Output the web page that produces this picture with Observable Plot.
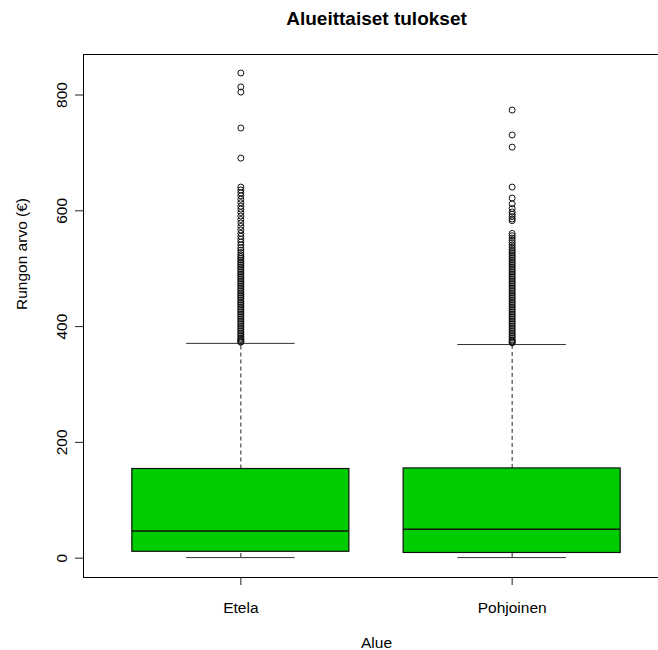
<!DOCTYPE html>
<html>
<head>
<meta charset="utf-8">
<script src="https://cdn.jsdelivr.net/npm/d3@7"></script>
<script src="https://cdn.jsdelivr.net/npm/@observablehq/plot@0.6"></script>
<style>
  html, body { margin: 0; padding: 0; background: white; overflow: hidden; }
  #chart { width: 658px; height: 650px; overflow: hidden; }
</style>
</head>
<body>
<div id="chart"></div>
<script>
const categories = ["Etela", "Pohjoinen"];
const categoryPos = [1, 2];
const lowerWhisker = [1, 1];
const q1 = [11, 9];
const median = [47, 50];
const q3 = [154, 155];
const upperWhisker = [371, 369];

const etelaOutliers = [838, 814, 805, 743, 691, 641, 636, 631, 626, 620, 614, 608, 603, 597, 591, 585, 579, 573, 567, 561, 556, 551, 546, 541, 536, 532, 528, 524, 521, 518, 515, 512, 509, 506, 503, 500, 497, 494, 491, 488, 485, 482, 479, 476, 473, 470, 467, 464, 461, 458, 455, 452, 449, 446, 443, 440, 437, 434, 431, 428, 425, 422, 419, 416, 413, 410, 407, 404, 401, 398, 395, 392, 389, 386, 383, 380, 378, 376, 374, 373];
const pohjoinenOutliers = [774, 731, 710, 641, 622, 612, 604, 598, 594, 590, 586, 583, 561, 557, 553, 549, 545, 541, 537, 533, 530, 527, 524, 521, 518, 515, 512, 509, 506, 503, 500, 497, 494, 491, 488, 485, 482, 479, 476, 473, 470, 467, 464, 461, 458, 455, 452, 449, 446, 443, 440, 437, 434, 431, 428, 425, 422, 419, 416, 413, 410, 407, 404, 401, 398, 395, 392, 389, 386, 383, 380, 377, 375, 373, 372];

const yTicks = [0, 200, 400, 600, 800];
const title = "Alueittaiset tulokset";
const xLabel = "Alue";
const yLabel = "Rungon arvo (€)";

const stats = categories.map((c, i) => ({
  name: c, pos: categoryPos[i],
  lo: lowerWhisker[i], q1: q1[i], med: median[i], q3: q3[i], hi: upperWhisker[i]
}));
const outliers = [
  ...etelaOutliers.map(v => ({pos: 1, v})),
  ...pohjoinenOutliers.map(v => ({pos: 2, v}))
];

const half = 0.4, stapleHalf = 0.2;
const font = "'Liberation Sans', Arial, Helvetica, sans-serif";

const chart = Plot.plot({
  width: 700,
  height: 650,
  marginLeft: 83,
  marginRight: 31,
  marginTop: 54,
  marginBottom: 73,
  style: {fontFamily: font, fontSize: "15.5px", color: "black", background: "white", maxWidth: "none"},
  x: {type: "linear", domain: [0.42, 2.58], axis: null},
  y: {domain: [-33.4, 870], axis: null},
  marks: [
    Plot.frame({stroke: "black", strokeWidth: 1}),
    Plot.axisY({ticks: yTicks, tickSize: 8, tickPadding: 9, tickRotate: -90, label: null, fontSize: "15.5px", stroke: "#222"}),
    Plot.axisX({ticks: categoryPos, tickFormat: d => categories[categoryPos.indexOf(d)], tickSize: 8, tickPadding: 16, label: null, fontSize: "15.5px", stroke: "#222"}),
    // whiskers
    Plot.ruleX(stats, {x: "pos", y1: "q3", y2: "hi", stroke: "#222", strokeDasharray: "4,3"}),
    Plot.ruleX(stats, {x: "pos", y1: "lo", y2: "q1", stroke: "#222", strokeDasharray: "4,3"}),
    Plot.ruleY(stats, {y: "hi", x1: d => d.pos - stapleHalf, x2: d => d.pos + stapleHalf, stroke: "#333"}),
    Plot.ruleY(stats, {y: "lo", x1: d => d.pos - stapleHalf, x2: d => d.pos + stapleHalf, stroke: "#333"}),
    // boxes
    Plot.rect(stats, {x1: d => d.pos - half, x2: d => d.pos + half, y1: "q1", y2: "q3", fill: "#00CD00", stroke: "#111", strokeWidth: 1.2}),
    Plot.ruleY(stats, {y: "med", x1: d => d.pos - half, x2: d => d.pos + half, stroke: "#111", strokeWidth: 1.6}),
    // outliers
    Plot.dot(outliers, {x: "pos", y: "v", r: 3, stroke: "#111", strokeWidth: 1, fill: "none"}),
    // titles
    Plot.text([title], {frameAnchor: "top", lineAnchor: "middle", dy: -36, text: d => d, fontWeight: "bold", fontSize: 19, fill: "black"}),
    Plot.text([xLabel], {frameAnchor: "bottom", lineAnchor: "middle", dy: 66, text: d => d, fontSize: 15.5, fill: "black"}),
    Plot.text([yLabel], {frameAnchor: "left", lineAnchor: "middle", dx: -61, dy: -6, rotate: -90, text: d => d, fontSize: 15.5, fill: "black"})
  ]
});
document.getElementById("chart").appendChild(chart);
</script>
</body>
</html>
